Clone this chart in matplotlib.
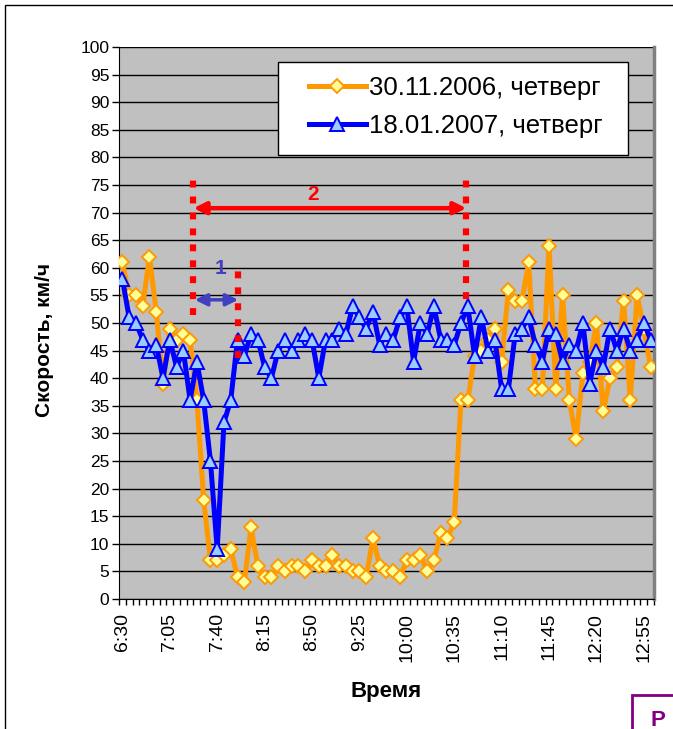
import matplotlib
matplotlib.use("Agg")
import matplotlib.pyplot as plt
from matplotlib.patches import Rectangle
import numpy as np

plt.rcParams['font.family'] = ['Liberation Sans', 'DejaVu Sans']

# ---- data -------------------------------------------------------------
time_labels = ["6:30", "7:05", "7:40", "8:15", "8:50", "9:25", "10:00",
               "10:35", "11:10", "11:45", "12:20", "12:55"]
label_step = 7  # every 7th 5-minute sample carries a label

speed_2006 = [61, 55, 55, 53, 62, 52, 39, 49, 47, 48, 47, 36, 18, 7, 7, 8,
              9, 4, 3, 13, 6, 4, 4, 6, 5, 6, 6, 5, 7, 6, 6, 8, 6, 6, 5, 5,
              4, 11, 6, 5, 5, 4, 7, 7, 8, 5, 7, 12, 11, 14, 36, 36, 44, 45,
              47, 49, 43, 56, 54, 54, 61, 38, 38, 64, 38, 55, 36, 29, 41, 43,
              50, 34, 40, 42, 54, 36, 55, 49, 42]
speed_2007 = [58, 51, 50, 47, 45, 46, 40, 47, 42, 45, 36, 43, 36, 25, 9, 32,
              36, 47, 44, 48, 47, 42, 40, 45, 47, 45, 47, 48, 47, 40, 47, 47,
              49, 48, 53, 51, 49, 52, 46, 48, 47, 51, 53, 43, 50, 48, 53, 47,
              47, 46, 50, 53, 44, 51, 45, 47, 38, 38, 48, 49, 51, 46, 43, 49,
              48, 43, 46, 45, 50, 39, 45, 42, 49, 45, 49, 45, 47, 50, 47]
series_names = ["30.11.2006, четверг", "18.01.2007, четверг"]

# ---- figure -------------------------------------------------------------
W, H = 673, 729
fig = plt.figure(figsize=(W / 100, H / 100), dpi=100)
fig.patch.set_facecolor('white')

ax = fig.add_axes([119 / W, 1 - 599 / H, (654 - 119) / W, (599 - 47) / H])
ax.set_facecolor('#C0C0C0')

x = np.arange(len(speed_2006))
ax.plot(x, speed_2006, color='#FF9900', lw=3.6, marker='D', ms=7,
        mfc='#FFFF99', mec='#FF9900', mew=1.4, label=series_names[0], zorder=3)
ax.plot(x, speed_2007, color='#0000FF', lw=3.6, marker='^', ms=9.5,
        mfc='#99CCFF', mec='#0000FF', mew=1.4, label=series_names[1], zorder=4)

ax.set_xlim(-0.5, len(x) - 0.5)
ax.set_ylim(0, 100)
ax.set_yticks(np.arange(0, 101, 5))
ax.yaxis.grid(True, color='black', lw=1.0)
ax.set_axisbelow(True)

ax.set_xticks(np.arange(0, len(x), label_step)[:len(time_labels)])
ax.set_xticklabels(time_labels, rotation=90, fontsize=14)
ax.set_xticks(np.arange(-0.5, len(x), 1), minor=True)
ax.tick_params(axis='x', which='major', length=0, pad=10)
ax.tick_params(axis='x', which='minor', length=4, width=1, direction='out')
ax.tick_params(axis='y', which='major', length=5, width=1, labelsize=12.5, pad=2)

ax.spines['top'].set_visible(False)
ax.spines['right'].set_color('#808080')
ax.spines['right'].set_linewidth(2.5)
ax.spines['left'].set_color('black')
ax.spines['bottom'].set_color('black')

# ---- annotations --------------------------------------------------------
red_dots = dict(color='#FF0000', lw=4.5, dashes=(1.1, 1.45), zorder=6,
                solid_capstyle='butt')
ax.plot([10.5, 10.5], [51.4, 75.9], **red_dots)
ax.plot([17.1, 17.1], [43.7, 59.6], **red_dots)
ax.plot([50.8, 50.8], [54.3, 75.9], **red_dots)

ax.annotate('', xy=(50.8, 70.8), xytext=(10.5, 70.8),
            arrowprops=dict(arrowstyle='<|-|>', color='#FF0000', lw=3.2,
                            mutation_scale=18, shrinkA=0, shrinkB=0), zorder=7)
ax.text(28.1, 73.2, '2', color='#FF0000', fontsize=15, fontweight='bold',
        ha='center', va='center', zorder=7)

ax.annotate('', xy=(17.1, 54.2), xytext=(10.7, 54.2),
            arrowprops=dict(arrowstyle='<|-|>', color='#4040C0', lw=2.5,
                            mutation_scale=18, shrinkA=0, shrinkB=0), zorder=7)
ax.text(14.5, 59.9, '1', color='#4040C0', fontsize=15, fontweight='bold',
        ha='center', va='center', zorder=7)

# ---- legend -------------------------------------------------------------
frame = Rectangle((278 / W, 1 - 155 / H), (628 - 278) / W, (155 - 62) / H,
                  transform=fig.transFigure, facecolor='white',
                  edgecolor='black', lw=1.0, zorder=8, clip_on=False)
ax.add_artist(frame)
leg = ax.legend(loc='center left', bbox_to_anchor=(309 / W, 1 - 107 / H),
                bbox_transform=fig.transFigure, fontsize=18.5, numpoints=1,
                handlelength=2.2, labelspacing=0.58, borderpad=0,
                handletextpad=0.12, frameon=False, borderaxespad=0)
leg.set_zorder(9)

# ---- axis titles --------------------------------------------------------
fig.text(45 / W, 1 - 340 / H, 'Скорость, км/ч', rotation=90, fontsize=15,
         fontweight='bold', ha='center', va='center')
fig.text(386 / W, 1 - 692 / H, 'Время', fontsize=16, fontweight='bold',
         ha='center', va='center')

# ---- outer frame and cut-off caption box -------------------------------
fig.add_artist(Rectangle((5 / W, -0.1), 1.2, 1.1 - 5 / H, transform=fig.transFigure,
                         fill=False, edgecolor='black', lw=1))
fig.add_artist(Rectangle((632 / W, -0.1), 0.5, 0.1 + (729 - 695) / H,
                         transform=fig.transFigure, fill=False,
                         edgecolor='#800080', lw=2))
fig.text(651 / W, 1 - 720 / H, 'Р', color='#800080', fontsize=16,
         fontweight='bold', ha='left', va='center')

fig.savefig('out.png', dpi=100, facecolor='white')
